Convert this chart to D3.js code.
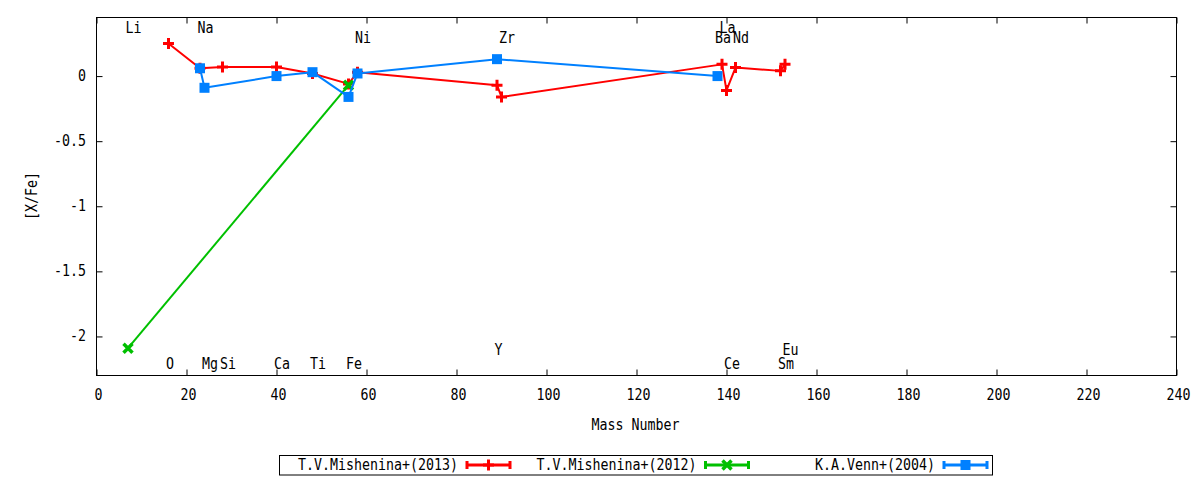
<!DOCTYPE html>
<html>
<head>
<meta charset="utf-8">
<script src="https://cdn.jsdelivr.net/npm/d3@7"></script>
<style>
  html, body { margin: 0; padding: 0; background: #fff; }
  svg { display: block; }
  text { font-family: "DejaVu Sans Mono", monospace; fill: #000; }
</style>
</head>
<body>
<svg id="chart" width="1200" height="480"></svg>
<script>
// ---------- data ----------
const seriesNames = ["T.V.Mishenina+(2013)", "T.V.Mishenina+(2012)", "K.A.Venn+(2004)"];
const seriesColors = ["#ff0000", "#00c000", "#0080ff"];
const seriesMarkers = ["plus", "cross", "square"];

const mishenina2013Mass = [16, 23, 28, 40, 48, 56, 58, 89, 90, 139, 140, 142, 152, 153];
const mishenina2013XFe  = [0.25, 0.06, 0.07, 0.07, 0.02, -0.06, 0.03, -0.07, -0.16, 0.09, -0.11, 0.065, 0.04, 0.09];

const mishenina2012Mass = [7, 56];
const mishenina2012XFe  = [-2.09, -0.07];

const venn2004Mass = [23, 24, 40, 48, 56, 58, 89, 138];
const venn2004XFe  = [0.06, -0.09, 0.00, 0.03, -0.16, 0.02, 0.13, 0.00];

const elementNames = ["Li", "Na", "La", "Ni", "Zr", "Ba", "Nd", "O", "Mg", "Si", "Ca", "Ti", "Fe", "Ce", "Sm", "Y", "Eu"];
const elementMass  = [7, 23, 139, 58, 90, 138, 142, 16, 24, 28, 40, 48, 56, 140, 152, 89, 153];
const elementLabelY = [0.37, 0.37, 0.37, 0.295, 0.295, 0.295, 0.295,
                       -2.215, -2.215, -2.215, -2.215, -2.215, -2.215, -2.215, -2.215, -2.105, -2.105];

const xTicks = [0, 20, 40, 60, 80, 100, 120, 140, 160, 180, 200, 220, 240];
const yTicks = [-2, -1.5, -1, -0.5, 0];
const xLabel = "Mass Number";
const yLabel = "[X/Fe]";

// ---------- layout ----------
const svg = d3.select("#chart");
const L = 96.5, R = 1176.5, T = 17.5, B = 375.5;
const x = d3.scaleLinear().domain([0, 240]).range([L, R]);
const y = d3.scaleLinear().domain([-2.3, 0.45]).range([B, T]);
const CHAR_W = 8;
const FS = 15;

function addText(g, str, px, py, anchor) {
  return g.append("text")
    .attr("x", px).attr("y", py)
    .attr("text-anchor", anchor || "start")
    .attr("dominant-baseline", "central")
    .attr("font-size", FS)
    .attr("textLength", str.length * CHAR_W)
    .attr("lengthAdjust", "spacingAndGlyphs")
    .text(str);
}

// frame
svg.append("rect").attr("x", L).attr("y", T).attr("width", R - L).attr("height", B - T)
  .attr("fill", "none").attr("stroke", "#000").attr("stroke-width", 1);

// axes (ticks inward, mirrored)
const fmt = d => (d === 0 ? "0" : String(d));
const axB = svg.append("g").attr("transform", `translate(0,${B})`)
  .call(d3.axisBottom(x).tickValues(xTicks).tickSize(-6).tickFormat(""));
const axT = svg.append("g").attr("transform", `translate(0,${T})`)
  .call(d3.axisTop(x).tickValues(xTicks).tickSize(-6).tickFormat(""));
const axL = svg.append("g").attr("transform", `translate(${L},0)`)
  .call(d3.axisLeft(y).tickValues(yTicks).tickSize(-6).tickFormat(""));
const axR = svg.append("g").attr("transform", `translate(${R},0)`)
  .call(d3.axisRight(y).tickValues(yTicks).tickSize(-6).tickFormat(""));
[axB, axT, axL, axR].forEach(a => {
  a.select(".domain").remove();
  a.selectAll(".tick line").attr("stroke", "#000").attr("stroke-width", 1);
});

// tick labels
const gl = svg.append("g");
xTicks.forEach(v => addText(gl, fmt(v), x(v) + 2, 395, "middle"));
yTicks.forEach(v => addText(gl, fmt(v), 86, y(v), "end"));

// axis titles
addText(gl, xLabel, (L + R) / 2 - 1, 425, "middle");
const yl = svg.append("g").attr("transform", `translate(32,196) rotate(-90)`);
addText(yl, yLabel, 0, 0, "middle");

// element labels
const ge = svg.append("g");
elementNames.forEach((n, i) => addText(ge, n, x(elementMass[i]) - 2.5, y(elementLabelY[i]), "start"));

// ---------- series ----------
const seriesData = [
  mishenina2013Mass.map((m, i) => [m, mishenina2013XFe[i]]),
  mishenina2012Mass.map((m, i) => [m, mishenina2012XFe[i]]),
  venn2004Mass.map((m, i) => [m, venn2004XFe[i]])
];

function drawMarker(g, type, cx, cy, color) {
  if (type === "plus") {
    g.append("path").attr("d", `M${cx - 5.5},${cy}H${cx + 5.5}M${cx},${cy - 5.5}V${cy + 5.5}`)
      .attr("stroke", color).attr("stroke-width", 3).attr("fill", "none");
  } else if (type === "cross") {
    g.append("path").attr("d", `M${cx - 4.5},${cy - 4.5}L${cx + 4.5},${cy + 4.5}M${cx - 4.5},${cy + 4.5}L${cx + 4.5},${cy - 4.5}`)
      .attr("stroke", color).attr("stroke-width", 3.5).attr("fill", "none");
  } else {
    g.append("rect").attr("x", cx - 5).attr("y", cy - 5).attr("width", 10).attr("height", 10)
      .attr("fill", color);
  }
}

const line = d3.line().x(d => x(d[0])).y(d => y(d[1]));
seriesData.forEach((data, s) => {
  const g = svg.append("g");
  g.append("path").datum(data).attr("d", line)
    .attr("fill", "none").attr("stroke", seriesColors[s]).attr("stroke-width", 2)
    .attr("stroke-linejoin", "round");
  data.forEach(d => drawMarker(g, seriesMarkers[s], x(d[0]), y(d[1]), seriesColors[s]));
});

// ---------- legend ----------
const lg = svg.append("g");
lg.append("rect").attr("x", 279.5).attr("y", 455.5).attr("width", 713).attr("height", 19.5)
  .attr("fill", "none").attr("stroke", "#000").attr("stroke-width", 1);
const legTextEnd = [458, 696.5, 935];
const legY = 465;
seriesNames.forEach((n, i) => {
  addText(lg, n, legTextEnd[i], legY, "end");
  const x0 = legTextEnd[i] + 9, x1 = x0 + 43;
  lg.append("path").attr("d", `M${x0},${legY}H${x1}M${x0},${legY - 4}V${legY + 4}M${x1},${legY - 4}V${legY + 4}`)
    .attr("stroke", seriesColors[i]).attr("stroke-width", 3).attr("fill", "none");
  drawMarker(lg, seriesMarkers[i], (x0 + x1) / 2, legY, seriesColors[i]);
});
</script>
</body>
</html>
